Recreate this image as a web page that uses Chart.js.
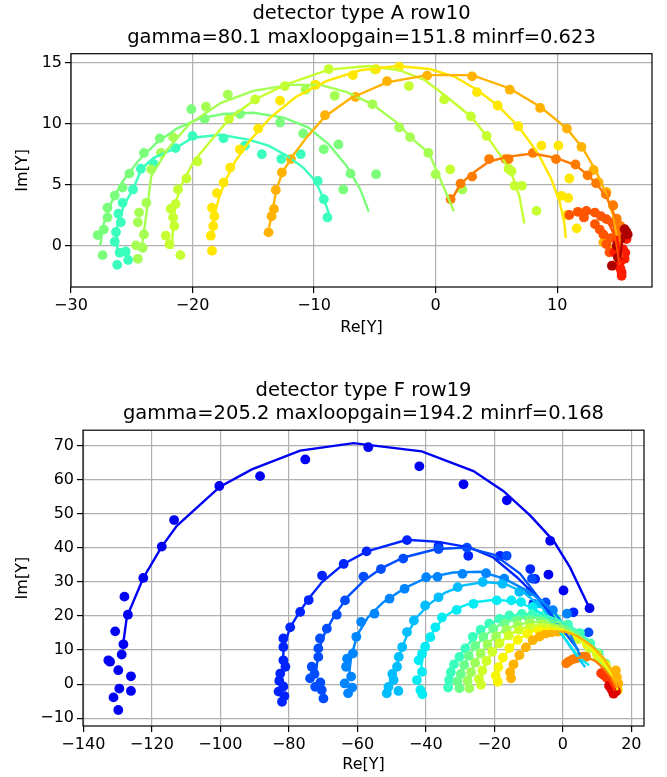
<!DOCTYPE html>
<html>
<head>
<meta charset="utf-8">
<script src="https://cdn.jsdelivr.net/npm/chart.js@4.4.1/dist/chart.umd.min.js"></script>
<style>
  body { margin: 0; background: #fff; }
  canvas { position: absolute; left: 0; }
  #top { top: 0; }
  #bottom { top: 345px; }
</style>
</head>
<body>
<canvas id="top" width="667" height="345"></canvas>
<canvas id="bottom" width="667" height="432"></canvas>
<script>
// ---- detector type A row10 ----
const topTitle = ["detector type A row10", "gamma=80.1 maxloopgain=151.8 minrf=0.623"];
const topTicksX = [-30, -20, -10, 0, 10];
const topTicksY = [0, 5, 10, 15];
// colour level (jet) of each sweep
const topLevels = [0.42, 0.5, 0.55, 0.59, 0.665, 0.72, 0.78, 0.82, 0.88, 0.96];

const a1Pts = [[-26.2,-1.6],[-25.3,-1.2],[-26.0,-0.6],[-25.5,-0.5],[-26.4,0.3],[-26.3,1.1],[-25.9,1.9],[-26.1,2.6],[-25.75,3.5],[-24.9,4.6],[-24.25,6.3],[-23.2,6.7],[-21.4,8.0],[-20.0,9.0],[-17.45,8.8],[-15.7,8.2],[-14.3,7.5],[-12.7,7.1],[-11.1,7.5],[-9.7,5.3],[-9.2,3.8],[-8.9,2.3]];
const a1Fit = [[-26.2,-0.6],[-26.2,1.6],[-25.6,3.4],[-24.9,4.6],[-24.2,6.3],[-23.2,7.2],[-21.4,8.0],[-20.0,8.85],[-17.7,9.1],[-15.4,8.7],[-13.75,8.2],[-12.2,7.35],[-10.9,6.4],[-9.9,5.3],[-9.2,3.8],[-8.7,2.4]];

const a2Pts = [[-27.4,-0.8],[-27.8,0.85],[-27.3,1.3],[-27.0,2.3],[-27.0,3.1],[-26.4,4.1],[-25.75,4.75],[-25.2,5.9],[-24.0,7.6],[-22.7,8.8],[-20.1,11.2],[-19.0,10.4],[-16.1,10.8],[-12.8,10.1],[-10.9,9.2],[-9.2,7.9],[-8.0,8.3],[-7.0,5.9],[-7.6,4.6],[-4.9,5.85]];
const a2Fit = [[-27.6,0.0],[-27.3,1.8],[-26.7,3.5],[-25.8,5.2],[-24.5,6.9],[-23.0,8.4],[-21.3,9.6],[-19.5,10.4],[-17.5,10.8],[-15.0,10.9],[-12.5,10.5],[-10.5,9.7],[-8.8,8.3],[-7.3,6.5],[-6.2,4.6],[-5.5,2.75]];

const a3Pts = [[-24.5,-1.1],[-24.1,-0.2],[-24.65,0.0],[-24.0,0.9],[-24.5,1.9],[-24.4,2.7],[-23.8,3.5],[-23.4,6.25],[-22.6,7.6],[-21.6,8.9],[-18.9,11.4],[-17.1,12.4],[-10.7,12.8],[-9.9,13.2],[-8.3,12.3],[-5.2,11.6],[-3.0,9.7],[-2.1,8.9],[-0.6,7.6],[0.0,5.85],[2.2,4.6]];
const a3Fit = [[-24.2,-0.2],[-24.0,1.1],[-23.7,3.3],[-23.4,5.7],[-22.05,7.9],[-20.3,9.95],[-17.7,11.7],[-15.0,12.7],[-12.0,13.2],[-9.5,13.2],[-7.3,12.6],[-5.2,11.6],[-3.0,9.95],[-2.05,8.85],[-0.55,7.6],[0.4,5.4],[1.0,4.0],[1.5,2.8]];

const a4Pts = [[-21.0,-0.8],[-21.9,0.1],[-22.2,0.8],[-21.5,1.6],[-21.6,2.3],[-21.8,3.0],[-21.4,3.4],[-21.2,4.6],[-20.5,5.5],[-19.6,6.9],[-17.0,10.4],[-14.85,12.0],[-12.4,13.1],[-8.8,14.5],[-5.0,14.45],[-2.2,13.1],[0.7,12.0],[2.9,10.6],[4.2,9.0],[6.0,6.3],[6.5,4.9],[7.1,4.9],[8.3,2.84],[1.2,6.25],[6.25,6.1]];
const a4Fit = [[-21.7,-0.3],[-21.6,1.5],[-21.4,3.5],[-20.9,5.0],[-19.9,6.9],[-18.5,8.6],[-16.9,10.5],[-14.85,12.0],[-12.4,13.2],[-8.8,14.45],[-5.5,14.75],[-3.0,14.4],[-0.9,13.6],[0.8,12.3],[2.9,10.6],[4.2,9.0],[5.4,7.3],[6.25,5.9],[6.9,4.0],[7.3,1.8]];

const a5Pts = [[-18.4,-0.44],[-18.5,0.8],[-18.3,1.6],[-18.2,2.4],[-18.4,3.1],[-18.0,4.3],[-17.45,5.16],[-16.9,6.4],[-16.1,7.9],[-14.6,9.6],[-12.8,11.9],[-9.9,13.2],[-6.8,14.0],[-4.9,14.5],[-3.0,14.7],[3.4,12.6],[5.1,11.5],[6.8,9.8],[8.7,8.2],[10.1,8.2],[11.0,5.5],[10.35,4.07],[10.9,3.9],[10.8,2.5],[11.6,1.4]];
const a5Fit = [[-18.4,0.5],[-18.2,2.5],[-17.8,4.0],[-17.3,5.3],[-16.5,6.9],[-15.3,8.6],[-13.6,10.5],[-11.5,12.2],[-9.0,13.5],[-6.2,14.4],[-3.2,14.75],[-0.5,14.5],[1.5,13.9],[3.4,12.8],[5.1,11.5],[6.8,9.8],[8.4,7.6],[9.5,5.5],[10.2,3.6],[10.6,1.8],[10.7,0.6]];

const a6Pts = [[-13.75,1.07],[-13.5,2.4],[-13.3,3.0],[-13.15,4.56],[-12.65,6.0],[-11.9,7.1],[-9.1,10.7],[-6.6,12.2],[-4.0,13.5],[-0.7,13.96],[3.0,13.9],[6.1,12.8],[8.6,11.3],[10.8,9.6],[12.0,8.1],[13.0,6.2],[13.4,5.2],[14.05,4.4],[14.6,3.25],[14.8,1.8],[15.0,0.8],[14.7,-0.26],[13.8,0.25],[14.6,-1.67]];
const a6Fit = [[-13.7,1.5],[-13.4,3.0],[-13.1,4.6],[-12.6,6.0],[-11.8,7.3],[-10.6,8.9],[-9.1,10.6],[-7.0,12.1],[-4.0,13.4],[-0.7,14.0],[3.0,14.0],[6.1,12.9],[8.6,11.4],[10.8,9.6],[12.1,8.0],[13.2,6.1],[14.0,4.3],[14.6,2.5],[14.9,0.8],[15.1,-0.6],[15.2,-1.6]];

const a7Pts = [[1.23,3.8],[2.05,5.08],[3.0,5.66],[4.4,7.1],[5.75,7.1],[6.0,7.1],[8.0,7.6],[9.9,7.1],[11.5,6.65],[12.5,5.76],[13.2,5.1],[14.0,4.2],[14.6,3.3],[14.9,2.2],[15.2,1.6]];
const a7Fit = [[1.3,3.7],[2.0,5.0],[3.0,5.9],[4.4,6.9],[6.0,7.3],[8.0,7.55],[9.9,7.2],[11.5,6.6],[12.5,5.8],[13.3,5.0],[14.1,3.9],[14.7,2.5],[15.1,0.9],[15.3,-1.0]];

const a8Pts = [[11.0,2.5],[11.7,2.76],[12.4,2.84],[13.1,2.7],[13.6,2.4],[14.05,2.16],[13.1,1.75],[13.5,1.3],[13.8,0.9],[14.05,0.1],[14.3,-0.57],[14.6,1.9],[14.9,1.2],[12.2,2.3],[14.4,0.6]];
const a8Fit = [[11.2,2.6],[12.4,2.8],[13.6,2.4],[14.3,1.7],[14.8,0.6],[15.0,-0.6],[15.1,-1.4]];

const a9Pts = [[14.7,-0.57],[15.15,-1.4],[15.3,-2.2],[15.55,-1.1],[15.4,-0.3],[15.7,0.52],[15.2,-1.9],[15.0,0.3],[15.6,-0.6],[15.3,-2.5]];
const a9Fit = [[14.9,0.8],[15.1,-0.3],[15.2,-1.3],[15.3,-2.0]];

const a10Pts = [[15.55,1.34],[15.8,0.9],[14.9,-0.03],[14.5,-1.67],[15.7,1.1],[15.2,0.5],[15.0,-1.0]];
const a10Fit = [[15.4,1.2],[15.3,0.0],[15.2,-1.0]];

// ---- detector type F row19 ----
const botTitle = ["detector type F row19", "gamma=205.2 maxloopgain=194.2 minrf=0.168"];
const botTicksX = [-140, -120, -100, -80, -60, -40, -20, 0, 20];
const botTicksY = [-10, 0, 10, 20, 30, 40, 50, 60, 70];
const botLevels = [0.1, 0.16, 0.2, 0.255, 0.31, 0.355, 0.42, 0.48, 0.54, 0.6, 0.65, 0.72, 0.78, 0.85, 0.92];

const f1Pts = [[-56.8,69.6],[-41.9,64.0],[-29.0,58.7],[-16.35,54.0],[-3.7,42.1],[-4.2,32.2],[0.2,27.5],[7.8,22.3],[-75.2,66.0],[-88.4,61.1],[-100.3,58.2],[-113.5,48.2],[-117.1,40.4],[-122.5,31.2],[-128.0,25.7],[-127.0,20.4],[-130.7,15.5],[-128.3,11.7],[-128.8,8.7],[-132.7,7.0],[-132.2,6.6],[-129.8,4.1],[-126.1,2.3],[-129.5,-1.3],[-126.1,-2.0],[-131.2,-3.9],[-129.8,-7.6]];
const f1Fit = [[-128.5,10.9],[-127.3,19.7],[-122.5,31.2],[-117.1,40.4],[-112.7,46.5],[-100.1,58.0],[-90.8,63.1],[-76.7,68.6],[-61.1,70.8],[-41.2,68.4],[-26.1,62.6],[-17.3,56.7],[-9.5,49.5],[-2.7,42.1],[2.1,34.3],[7.8,22.3]];

const f2Pts = [[-82.0,-5.2],[-83.0,-2.2],[-81.6,-0.7],[-82.8,1.0],[-82.5,3.1],[-81.0,5.1],[-81.6,7.0],[-81.6,10.9],[-81.6,13.4],[-79.6,16.7],[-76.7,21.2],[-74.2,24.7],[-70.3,31.9],[-64.0,35.3],[-57.3,39.0],[-45.5,42.3],[-36.3,40.6],[-27.6,37.7],[-18.3,37.7],[-9.5,33.8],[-8.1,30.9],[-8.6,23.6],[-81.3,-3.5],[3.1,21.1]];
const f2Fit = [[-81.8,5.0],[-81.5,10.9],[-79.6,16.7],[-76.7,21.5],[-74.0,25.4],[-70.3,30.0],[-64.0,35.3],[-57.2,39.0],[-45.5,42.4],[-36.3,41.8],[-27.1,40.1],[-20.3,37.2],[-13.4,31.4],[-6.6,24.6],[-1.3,16.3]];

const f3Pts = [[-69.9,-4.2],[-72.3,-0.8],[-73.8,1.7],[-70.4,-1.7],[-72.5,3.0],[-73.3,5.1],[-71.4,8.0],[-71.4,10.5],[-70.9,13.4],[-68.9,16.3],[-66.0,20.4],[-63.6,24.6],[-58.2,31.6],[-53.1,33.8],[-46.6,36.9],[-36.3,39.7],[-28.0,40.1],[-16.4,37.7],[-9.0,31.0],[-5.0,24.0],[-70.8,0.5],[7.5,15.2]];
const f3Fit = [[-72.0,4.0],[-71.3,10.0],[-69.5,15.0],[-66.5,20.5],[-62.5,26.0],[-58.0,30.5],[-53.0,34.0],[-46.5,37.2],[-36.8,39.7],[-28.0,40.1],[-20.0,38.0],[-12.5,32.5],[-6.0,24.0],[0.0,16.0],[4.6,9.9]];

const f4Pts = [[-62.7,-2.7],[-63.7,0.2],[-61.8,2.2],[-63.3,5.1],[-63.0,7.5],[-61.3,9.0],[-60.3,13.9],[-58.9,18.3],[-55.0,20.7],[-50.6,25.1],[-46.2,28.0],[-39.9,31.4],[-36.6,31.5],[-29.3,32.4],[-22.4,32.6],[-17.1,31.0],[-9.8,27.1],[-2.9,21.7],[-61.5,-1.0],[1.2,20.7]];
const f4Fit = [[-62.5,2.0],[-61.8,8.0],[-60.0,14.5],[-57.0,19.5],[-52.5,24.0],[-46.2,28.2],[-39.9,31.2],[-32.0,32.8],[-24.0,33.0],[-17.1,31.0],[-9.8,27.1],[-2.9,21.7],[2.0,15.0],[5.0,8.5]];

const f5Pts = [[-51.4,-2.7],[-50.9,-0.8],[-49.4,1.2],[-49.8,3.0],[-48.4,5.1],[-47.9,8.0],[-46.9,10.9],[-45.5,15.3],[-43.5,18.7],[-40.2,23.1],[-36.3,25.5],[-30.7,28.5],[-23.4,30.0],[-17.6,29.5],[-12.7,27.1],[-6.8,23.7],[-48.0,-2.0]];
const f5Fit = [[-49.5,2.0],[-48.4,6.0],[-46.9,10.9],[-45.0,15.5],[-42.5,19.8],[-39.0,23.5],[-34.5,26.8],[-29.0,29.0],[-23.0,30.0],[-17.0,29.5],[-11.5,27.0],[-6.0,22.5],[-1.5,16.5],[2.5,10.5],[6.5,5.0]];

const f6Pts = [[-41.6,-1.7],[-41.0,-3.0],[-42.6,1.2],[-41.1,3.6],[-42.1,7.0],[-41.1,8.9],[-40.2,11.0],[-38.7,13.8],[-37.2,16.7],[-35.3,19.6],[-31.0,21.8],[-26.1,23.6],[-19.3,24.6],[-15.0,24.6],[-12.2,24.1],[-8.8,22.7]];
const f6Fit = [[-41.5,3.0],[-41.0,8.0],[-39.5,12.5],[-37.3,16.5],[-34.5,19.8],[-31.0,22.2],[-26.3,24.0],[-20.0,24.8],[-14.0,24.3],[-8.5,22.3],[-3.5,18.5],[1.0,13.0],[4.5,8.0],[7.7,5.5]];

const f7Pts = [[-33.2,1.2],[-33.5,-1.0],[-32.7,3.5],[-31.8,5.8],[-30.2,8.0],[-28.5,10.5],[-26.3,13.9],[-24.0,16.0],[-21.5,17.8],[-18.5,19.2],[-15.6,20.2],[-12.0,20.6],[-8.8,20.7],[-5.5,20.2],[-2.0,19.3],[1.5,17.5],[5.0,15.0],[8.0,12.0],[10.5,9.0],[12.5,6.0]];
const f7Fit = [[-33.3,0.5],[-32.3,4.5],[-30.2,8.0],[-28.0,11.2],[-25.0,14.8],[-21.5,17.6],[-17.5,19.5],[-13.0,20.5],[-8.5,20.6],[-4.0,19.8],[0.5,18.0],[4.5,15.5],[8.0,12.3],[11.0,8.8],[13.5,5.0],[15.0,1.5],[15.6,-0.7]];

const f8Pts = [[-30.2,-1.2],[-30.8,0.8],[-29.8,3.0],[-28.8,5.6],[-27.5,8.3],[-25.6,11.2],[-23.2,13.9],[-20.3,16.3],[-17.0,18.0],[-13.5,19.2],[-10.0,19.6],[-6.5,19.4],[-3.0,18.6],[0.5,17.0],[4.0,14.7],[7.2,12.0],[10.0,9.0],[12.3,6.0],[14.0,3.0],[15.0,0.5]];
const f8Fit = [[-30.3,0.0],[-29.5,3.6],[-28.0,7.3],[-25.6,11.0],[-22.5,14.4],[-18.8,17.2],[-14.5,18.9],[-10.0,19.6],[-5.5,19.3],[-1.0,18.0],[3.5,15.3],[7.5,11.8],[11.0,7.8],[13.8,3.5],[15.5,-0.8]];

const f9Pts = [[-27.3,-1.2],[-27.8,1.0],[-26.8,3.5],[-25.6,6.3],[-24.0,9.0],[-22.0,11.7],[-19.5,14.0],[-16.5,16.0],[-13.2,17.4],[-9.6,18.2],[-6.0,18.3],[-2.5,17.6],[1.0,16.0],[4.5,13.6],[7.5,10.8],[10.2,7.8],[12.5,4.8],[14.3,2.0],[15.4,-0.3]];
const f9Fit = [[-27.4,0.0],[-26.5,4.0],[-24.7,8.0],[-22.0,11.8],[-18.5,15.0],[-14.5,17.0],[-10.0,18.2],[-5.5,18.3],[-1.0,17.2],[3.5,14.5],[7.5,11.0],[11.0,7.0],[13.8,3.0],[15.6,-1.0]];

const f10Pts = [[-23.9,-0.2],[-24.5,1.5],[-23.5,4.0],[-22.3,6.8],[-20.6,9.5],[-18.5,12.0],[-15.8,14.3],[-12.8,16.0],[-9.5,17.0],[-6.0,17.4],[-2.5,17.0],[1.0,15.5],[4.5,13.2],[7.8,10.5],[10.6,7.5],[12.9,4.5],[14.6,1.6],[15.6,-0.8]];
const f10Fit = [[-24.0,0.5],[-23.0,4.8],[-21.0,8.8],[-18.2,12.4],[-14.8,15.0],[-10.8,16.7],[-6.5,17.4],[-2.0,16.9],[2.5,14.9],[6.5,11.8],[10.3,8.0],[13.3,4.0],[15.7,-1.0]];

const f11Pts = [[-19.0,0.7],[-19.6,2.5],[-18.8,5.0],[-17.5,7.8],[-15.6,10.6],[-13.2,13.0],[-10.3,14.8],[-7.0,16.0],[-3.5,16.4],[0.0,15.9],[3.5,14.3],[7.0,11.8],[10.0,8.8],[12.5,5.6],[14.4,2.6],[15.6,-0.2],[16.0,-1.8]];
const f11Fit = [[-19.2,1.5],[-18.2,6.0],[-16.0,10.0],[-13.0,13.2],[-9.5,15.3],[-5.5,16.3],[-1.5,16.2],[2.5,14.9],[6.5,12.3],[10.0,8.9],[13.0,5.0],[15.0,1.5],[16.0,-1.8]];

const f12Pts = [[-15.1,1.7],[-15.4,3.5],[-14.4,5.8],[-12.7,8.5],[-10.8,10.8],[-8.8,12.9],[-6.8,14.0],[-4.9,14.9],[-3.2,15.2],[-1.5,15.4],[15.5,4.0],[15.8,2.0],[16.2,0.2],[15.9,-1.7]];
const f12Fit = [[-15.0,3.0],[-13.5,7.0],[-11.0,10.6],[-7.5,13.5],[-3.5,15.3],[0.5,15.5],[4.5,14.0],[8.5,11.2],[12.0,7.5],[14.5,3.5],[15.9,-1.2]];

const f13Pts = [[1.0,6.1],[1.8,6.7],[2.9,7.3],[3.9,7.6],[5.0,7.9],[6.0,8.1],[6.8,8.0],[12.0,3.5],[13.0,2.5],[14.0,1.0],[14.8,-0.5]];
const f13Fit = [[1.0,6.0],[3.9,7.6],[6.8,8.0],[9.5,6.8],[12.0,4.5],[14.0,2.0],[15.5,-1.0]];

const f14Pts = [[11.2,3.2],[12.0,2.6],[12.8,1.9],[13.7,1.2],[14.3,0.2],[14.6,-0.8],[14.6,-2.2],[15.2,-1.5]];
const f14Fit = [[11.5,3.0],[13.5,1.2],[14.8,-1.0],[15.2,-2.0]];

const f15Pts = [[13.5,-0.5],[14.2,-1.5],[14.8,-2.8],[15.5,-2.2]];
const f15Fit = [];

const topPts = [a1Pts, a2Pts, a3Pts, a4Pts, a5Pts, a6Pts, a7Pts, a8Pts, a9Pts, a10Pts];
const topFits = [a1Fit, a2Fit, a3Fit, a4Fit, a5Fit, a6Fit, a7Fit, a8Fit, a9Fit, a10Fit];
const botPts = [f1Pts, f2Pts, f3Pts, f4Pts, f5Pts, f6Pts, f7Pts, f8Pts, f9Pts, f10Pts, f11Pts, f12Pts, f13Pts, f14Pts, f15Pts];
const botFits = [f1Fit, f2Fit, f3Fit, f4Fit, f5Fit, f6Fit, f7Fit, f8Fit, f9Fit, f10Fit, f11Fit, f12Fit, f13Fit, f14Fit, f15Fit];

// matplotlib "jet"
function jet(v) {
  const seg = (pts) => {
    for (let i = 1; i < pts.length; i++) {
      const [x0, y0] = pts[i - 1], [x1, y1] = pts[i];
      if (v <= x1) return y0 + (y1 - y0) * (v - x0) / (x1 - x0);
    }
    return pts[pts.length - 1][1];
  };
  const r = seg([[0, 0], [0.35, 0], [0.66, 1], [0.89, 1], [1, 0.5]]);
  const g = seg([[0, 0], [0.125, 0], [0.375, 1], [0.64, 1], [0.91, 0], [1, 0]]);
  const b = seg([[0, 0.5], [0.11, 1], [0.34, 1], [0.65, 0], [1, 0]]);
  const c = (t) => Math.round(Math.max(0, Math.min(1, t)) * 255);
  return `rgb(${c(r)},${c(g)},${c(b)})`;
}

const minus = (v) => (v < 0 ? "\u2212" + -v : "" + v);
const toXY = (arr) => arr.map(([x, y]) => ({ x, y }));

// black box round the plot area
const frame = {
  id: "frame",
  afterDraw(chart) {
    const { ctx, chartArea: a } = chart;
    ctx.save();
    ctx.strokeStyle = "#000";
    ctx.lineWidth = 1.2;
    ctx.strokeRect(a.left, a.top, a.right - a.left, a.bottom - a.top);
    ctx.restore();
  },
};

Chart.defaults.font.family = "DejaVu Sans";
Chart.defaults.color = "#000";

const grid = {
  color: "#b0b0b0",
  lineWidth: 1.2,
  tickColor: "#000",
  tickLength: 6,
  tickWidth: 1.2,
};

const panel = (id, o) => {
  const datasets = [];
  o.pts.forEach((p, i) => {
    datasets.push({
      data: toXY(p),
      backgroundColor: jet(o.levels[i]),
      borderWidth: 0,
      pointRadius: 4.9,
      pointHoverRadius: 4.9,
    });
  });
  o.fits.forEach((f, i) => {
    if (!f.length) return;
    datasets.push({
      data: toXY(f),
      showLine: true,
      borderColor: jet(o.levels[i]),
      borderWidth: 2.4,
      pointRadius: 0,
      fill: false,
    });
  });
  // later datasets on top, all fit lines above the dots
  datasets.forEach((d, i) => (d.order = datasets.length - i));

  new Chart(document.getElementById(id), {
    type: "scatter",
    data: { datasets },
    options: {
      responsive: false,
      animation: false,
      devicePixelRatio: 1,
      layout: { padding: { left: 0, right: o.padRight, top: 0, bottom: 0 } },
      plugins: {
        legend: { display: false },
        tooltip: { enabled: false },
        title: {
          display: true,
          fullSize: false,
          text: o.title,
          color: "#000",
          font: { size: 19.5, weight: "normal", lineHeight: 1.2 },
          padding: { top: o.titleTop, bottom: 4.4 },
        },
      },
      scales: {
        x: {
          type: "linear",
          min: o.xMin,
          max: o.xMax,
          afterBuildTicks: (s) => (s.ticks = o.xTicks.map((v) => ({ value: v }))),
          afterFit: (s) => (s.height = o.xAxisH),
          grid,
          border: { display: false },
          ticks: { font: { size: 16 }, color: "#000", padding: 3, maxRotation: 0, callback: minus },
          title: {
            display: true,
            text: "Re[Y]",
            font: { size: 16 },
            color: "#000",
            padding: { top: 0, bottom: o.xTitlePad },
          },
        },
        y: {
          type: "linear",
          min: o.yMin,
          max: o.yMax,
          afterBuildTicks: (s) => (s.ticks = o.yTicks.map((v) => ({ value: v }))),
          afterFit: (s) => (s.width = o.yAxisW),
          grid,
          border: { display: false },
          ticks: { font: { size: 16 }, color: "#000", padding: 3, callback: minus },
          title: {
            display: true,
            text: "Im[Y]",
            font: { size: 16 },
            color: "#000",
            padding: { top: 13, bottom: 0 },
          },
        },
      },
    },
    plugins: [frame],
  });
};

panel("top", {
  title: topTitle,
  pts: topPts,
  fits: topFits,
  levels: topLevels,
  xTicks: topTicksX,
  yTicks: topTicksY,
  xMin: -30,
  xMax: 17.8,
  yMin: -3.42,
  yMax: 15.76,
  titleTop: 2.5,
  padRight: 15,
  xAxisH: 58,
  yAxisW: 71,
  xTitlePad: 7.4,
});

panel("bottom", {
  title: botTitle,
  pts: botPts,
  fits: botFits,
  levels: botLevels,
  xTicks: botTicksX,
  yTicks: botTicksY,
  xMin: -140.1,
  xMax: 23.7,
  yMin: -12.3,
  yMax: 74.6,
  titleTop: 34,
  padRight: 23,
  xAxisH: 51,
  yAxisW: 83,
  xTitlePad: 2.4,
});
</script>
</body>
</html>
